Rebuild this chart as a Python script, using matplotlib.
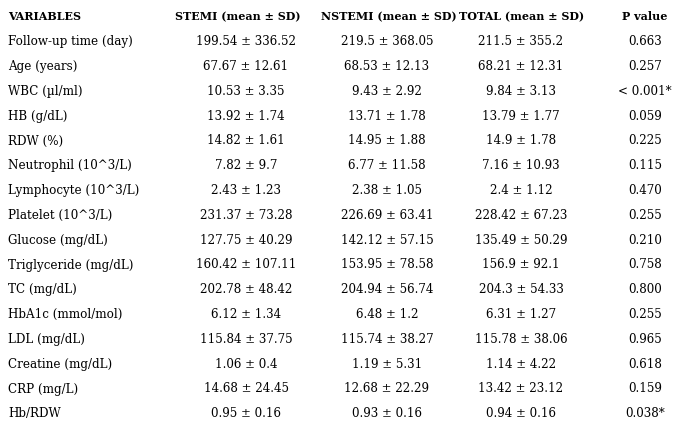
import matplotlib
matplotlib.use("Agg")
import matplotlib.pyplot as plt

headers = ["VARIABLES", "STEMI (mean ± SD)", "NSTEMI (mean ± SD)", "TOTAL (mean ± SD)", "P value"]
variables = ["Follow-up time (day)", "Age (years)", "WBC (µl/ml)", "HB (g/dL)", "RDW (%)",
             "Neutrophil (10^3/L)", "Lymphocyte (10^3/L)", "Platelet (10^3/L)", "Glucose (mg/dL)",
             "Triglyceride (mg/dL)", "TC (mg/dL)", "HbA1c (mmol/mol)", "LDL (mg/dL)",
             "Creatine (mg/dL)", "CRP (mg/L)", "Hb/RDW"]
stemi = ["199.54 ± 336.52", "67.67 ± 12.61", "10.53 ± 3.35", "13.92 ± 1.74", "14.82 ± 1.61",
         "7.82 ± 9.7", "2.43 ± 1.23", "231.37 ± 73.28", "127.75 ± 40.29", "160.42 ± 107.11",
         "202.78 ± 48.42", "6.12 ± 1.34", "115.84 ± 37.75", "1.06 ± 0.4", "14.68 ± 24.45", "0.95 ± 0.16"]
nstemi = ["219.5 ± 368.05", "68.53 ± 12.13", "9.43 ± 2.92", "13.71 ± 1.78", "14.95 ± 1.88",
          "6.77 ± 11.58", "2.38 ± 1.05", "226.69 ± 63.41", "142.12 ± 57.15", "153.95 ± 78.58",
          "204.94 ± 56.74", "6.48 ± 1.2", "115.74 ± 38.27", "1.19 ± 5.31", "12.68 ± 22.29", "0.93 ± 0.16"]
total = ["211.5 ± 355.2", "68.21 ± 12.31", "9.84 ± 3.13", "13.79 ± 1.77", "14.9 ± 1.78",
         "7.16 ± 10.93", "2.4 ± 1.12", "228.42 ± 67.23", "135.49 ± 50.29", "156.9 ± 92.1",
         "204.3 ± 54.33", "6.31 ± 1.27", "115.78 ± 38.06", "1.14 ± 4.22", "13.42 ± 23.12", "0.94 ± 0.16"]
pvals = ["0.663", "0.257", "< 0.001*", "0.059", "0.225", "0.115", "0.470", "0.255", "0.210",
         "0.758", "0.800", "0.255", "0.965", "0.618", "0.159", "0.038*"]

W, H = 677, 433
fig = plt.figure(figsize=(W/100, H/100), dpi=100)
ax = fig.add_axes([0, 0, 1, 1])
ax.set_xlim(0, W); ax.set_ylim(H, 0); ax.axis("off")

fam = ["DejaVu Serif"]
fs = 8.6
hfs = 8.0
col_x = [238, 389, 522, 645]
y0, dy = 17, 24.8
ax.text(8, y0, headers[0], ha="left", va="center", fontsize=hfs, fontweight="bold", family=fam)
for x, h in zip(col_x, headers[1:]):
    ax.text(x, y0, h, ha="center", va="center", fontsize=hfs, fontweight="bold", family=fam)
for i, v in enumerate(variables):
    y = y0 + dy * (i + 1)
    ax.text(8, y, v, ha="left", va="center", fontsize=fs, family=fam)
    for x, col in zip([246, 387, 521, 645], [stemi, nstemi, total, pvals]):
        ax.text(x, y, col[i], ha="center", va="center", fontsize=fs, family=fam)

fig.savefig("out.png", dpi=100)
